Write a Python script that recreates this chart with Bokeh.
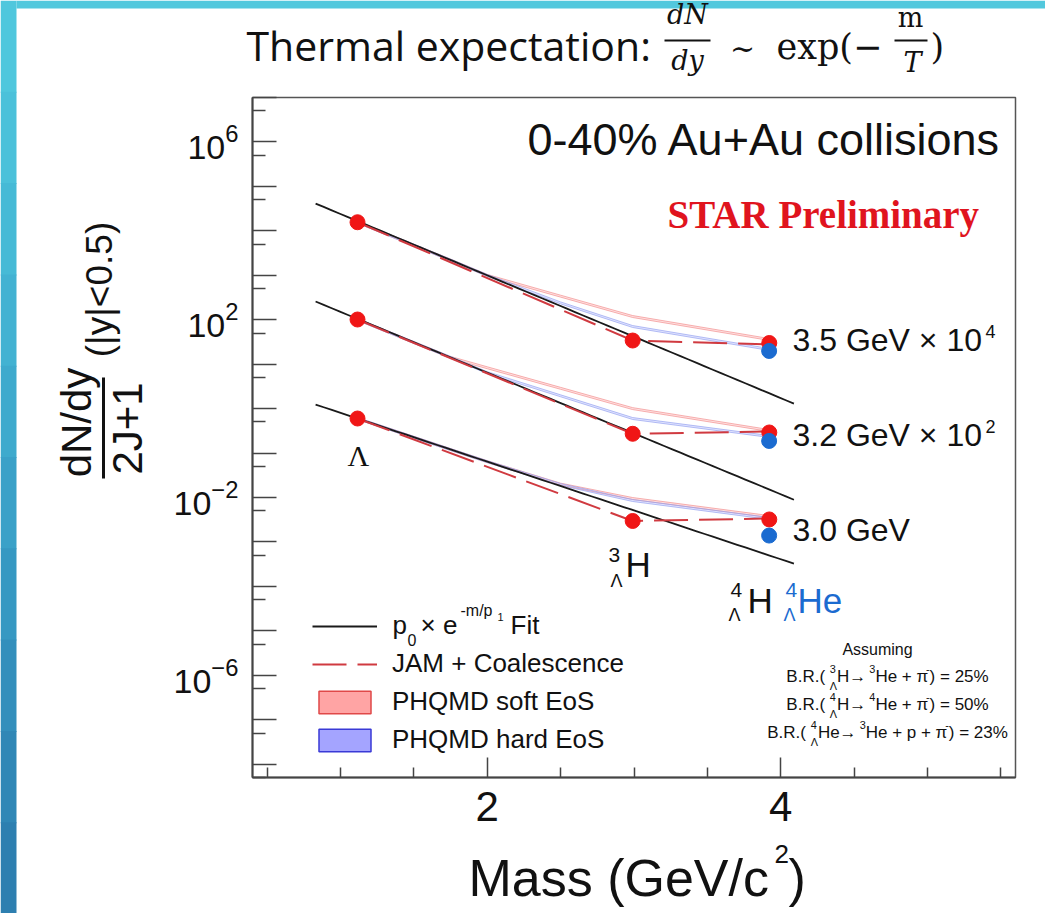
import numpy as np
from math import pi
from bokeh.plotting import figure
from bokeh.layouts import column
from bokeh.models import (Range1d, FixedTicker, Label, Legend, LegendItem,
                          BoxAnnotation, LogTickFormatter)
from bokeh.embed import file_html
from bokeh.resources import INLINE

# ---------------- data ----------------
# masses (GeV/c^2): Lambda, 3-Lambda-H, 4-Lambda-H, 4-Lambda-He
mass = [1.1157, 2.991, 3.922, 3.921]
species = ["Λ", "3ΛH", "4ΛH", "4ΛHe"]
energy_labels = ["3.5 GeV × 10", "3.2 GeV × 10", "3.0 GeV"]
energy_scale_exp = ["4", "2", ""]

# dN/dy/(2J+1), |y|<0.5, 0-40% Au+Au (scaled as labelled)
yield_35 = [1.56e4, 34.0, 29.9, 19.8]
yield_32 = [101.0, 0.271, 0.290, 0.187]
yield_30 = [0.598, 2.96e-3, 3.20e-3, 1.39e-3]

# exponential fits p0 * exp(-m/p1)
fit_p0 = [5.75e5, 3.50e3, 10.05]
fit_p1 = [0.3145, 0.3175, 0.3955]
fit_m_min, fit_m_max = 0.83, 4.09

# JAM + coalescence (Lambda, 3LH, 4LH)
jam_mass = [1.1157, 2.991, 3.922]
jam_35 = [1.56e4, 34.0, 27.7]
jam_32 = [101.0, 0.271, 0.305]
jam_30 = [0.598, 2.96e-3, 3.37e-3]

# PHQMD soft / hard EoS
phqmd_mass = [1.1157, 1.75, 2.0, 2.5, 2.991, 3.922]
soft_35 = [1.56e4, 2.20e3, 995.0, 339.0, 118.0, 35.9]
hard_35 = [1.56e4, 2.20e3, 995.0, 239.0, 70.3, 21.4]
soft_32 = [101.0, 14.2, 8.30, 2.86, 1.00, 0.321]
hard_32 = [101.0, 14.2, 6.44, 1.94, 0.598, 0.236]
soft_30 = [0.598, 0.120, 0.0640, 0.0200, 9.48e-3, 3.73e-3]
hard_30 = [0.598, 0.120, 0.0640, 0.0196, 8.55e-3, 3.37e-3]
phqmd_rel_width = 0.05

x_major = [2, 4]
x_minor = [0.5, 1.0, 1.5, 2.5, 3.0, 3.5, 4.5, 5.0, 5.5]
y_decades = [10.0 ** k for k in range(-8, 8)]
y_fives = [5.0 * 10.0 ** k for k in range(-9, 7)]
y_labelled = [1e-6, 1e-2, 1e2, 1e6]

# ---------------- main plot ----------------
W, H = 1045, 913
FL, FR, FT, FB = 252, 1015, 97, 777

p = figure(width=W, height=H, x_range=Range1d(0.4, 5.6),
           y_range=Range1d(5e-9, 1e7), y_axis_type="log",
           output_backend="svg", toolbar_location=None, title=None,
           min_border_left=FL, min_border_right=W - FR,
           min_border_top=FT, min_border_bottom=H - FB)
p.frame_align = False
p.background_fill_color = "white"
p.border_fill_color = "white"
p.outline_line_color = "#555555"
p.outline_line_width = 1.5
p.xgrid.visible = False
p.ygrid.visible = False

AXC = "#444444"
xa = p.xaxis[0]
xa.ticker = FixedTicker(ticks=x_major, minor_ticks=x_minor)
xa.major_tick_in, xa.major_tick_out = 20, 0
xa.minor_tick_in, xa.minor_tick_out = 10, 0
xa.axis_line_width = 2
xa.axis_line_color = AXC
xa.major_tick_line_color = AXC
xa.minor_tick_line_color = AXC
xa.major_tick_line_width = 1.5
xa.minor_tick_line_width = 1.5
xa.major_label_text_font = "Liberation Sans"
xa.major_label_text_font_size = "42px"
xa.major_label_text_color = "#111111"
xa.major_label_standoff = 14

ya = p.yaxis[0]
ya.ticker = FixedTicker(ticks=y_decades, minor_ticks=y_fives)
ya.formatter = LogTickFormatter()
ya.major_label_overrides = {t: "" for t in y_decades if t not in y_labelled}
ya.major_tick_in, ya.major_tick_out = 24, 0
ya.minor_tick_in, ya.minor_tick_out = 13, 0
ya.axis_line_width = 2
ya.axis_line_color = AXC
ya.major_tick_line_color = AXC
ya.minor_tick_line_color = AXC
ya.major_tick_line_width = 1.5
ya.minor_tick_line_width = 1.5
ya.major_label_text_font = "Liberation Sans"
ya.major_label_text_font_size = "34px"
ya.major_label_text_color = "#111111"
ya.major_label_standoff = 14

RED = "#f01616"
BLUE = "#1b6bd0"

yields = [yield_35, yield_32, yield_30]
jams = [jam_35, jam_32, jam_30]
softs = [soft_35, soft_32, soft_30]
hards = [hard_35, hard_32, hard_30]

fit_renderers, jam_renderers = [], []
for i in range(3):
    # PHQMD bands
    for vals, fcol, lcol in ((softs[i], "#ff9a9a", "#f29090"),
                             (hards[i], "#9aa4ff", "#95a2f0")):
        v = np.array(vals)
        lo, hi = v * (1 - phqmd_rel_width), v * (1 + phqmd_rel_width)
        p.varea(x=phqmd_mass, y1=lo, y2=hi, fill_color=fcol, fill_alpha=0.3)
        p.line(phqmd_mass, lo, line_color=lcol, line_width=1, line_alpha=0.7)
        p.line(phqmd_mass, hi, line_color=lcol, line_width=1, line_alpha=0.7)
    # exponential fit
    m = np.linspace(fit_m_min, fit_m_max, 60)
    fr = p.line(m, fit_p0[i] * np.exp(-m / fit_p1[i]), line_color="#1a1a1a",
                line_width=1.8)
    fit_renderers.append(fr)
    # JAM
    jr = p.line(jam_mass, jams[i], line_color="#d03a40", line_width=2,
                line_dash="34 11")
    jam_renderers.append(jr)
    # data points
    p.scatter(mass[:3], yields[i][:3], size=15, color=RED)
    p.scatter(mass[3:], yields[i][3:], size=15, color=BLUE)

# legend swatches for the PHQMD bands (nothing drawn in the frame)
soft_box = p.quad(left=[np.nan], right=[np.nan], top=[np.nan], bottom=[np.nan],
                  fill_color="#ffa4a4", line_color="#e04848", line_width=1.5)
hard_box = p.quad(left=[np.nan], right=[np.nan], top=[np.nan], bottom=[np.nan],
                  fill_color="#a4a4ff", line_color="#3a3ad6", line_width=1.5)

legend = Legend(items=[
    LegendItem(label=" ", renderers=[fit_renderers[0]]),
    LegendItem(label="JAM + Coalescence", renderers=[jam_renderers[0]]),
    LegendItem(label="PHQMD soft EoS", renderers=[soft_box]),
    LegendItem(label="PHQMD hard EoS", renderers=[hard_box]),
], location=(60, 22), orientation="vertical")
legend.padding = 0
legend.margin = 0
legend.spacing = 7
legend.glyph_width = 65
legend.glyph_height = 28
legend.label_height = 31
legend.label_standoff = 15
legend.label_text_font = "Liberation Sans"
legend.label_text_font_size = "26px"
legend.label_text_color = "#111111"
legend.background_fill_alpha = 0
legend.border_line_alpha = 0
p.add_layout(legend)

# ---------------- text overlay (pixel coordinates, y downwards) ----------------
ov = figure(width=W, height=H, x_range=Range1d(0, W), y_range=Range1d(H, 0),
            output_backend="svg", toolbar_location=None, title=None,
            x_axis_location=None, y_axis_location=None, min_border=0)
ov.frame_align = False
ov.background_fill_alpha = 0
ov.border_fill_alpha = 0
ov.outline_line_color = None
ov.xgrid.visible = False
ov.ygrid.visible = False
ov.margin = (-H, 0, 0, 0)


def put(text, px, py, size, font="Liberation Sans", color="#111111",
        align="left", style="normal", angle=0.0):
    ov.add_layout(Label(x=px, y=py, text=text, text_font=font,
                        text_font_size=f"{size:.1f}px", text_color=color,
                        text_align=align, text_baseline="middle",
                        text_font_style=style, angle=angle))


# approximate advance widths (em) of Liberation Sans, for inline sub/superscripts
ADV = {"B": .667, ".": .278, "R": .722, "(": .333, ")": .333, "H": .722,
       "e": .556, " ": .278, "+": .584, "p": .556, "=": .584, "%": .889,
       "→": .9, "π": .56, "-": .333, "Λ": .667}


def text_width(s, size):
    return sum(ADV.get(c, .556) for c in s) * size


def piece_width(pc, size):
    small = 0.64 * size
    if pc[0] == "n":
        return text_width(pc[1], size)
    if pc[0] == "sup":
        return text_width(pc[1], small)
    return max(text_width(pc[1], small), text_width(pc[2], small))


def compose(pieces, cx, cy, size):
    small = 0.64 * size
    x = cx - sum(piece_width(pc, size) for pc in pieces) / 2
    for pc in pieces:
        if pc[0] == "n":
            put(pc[1], x, cy, size)
        elif pc[0] == "sup":
            put(pc[1], x, cy - 0.42 * size, small)
        else:
            put(pc[1], x, cy - 0.42 * size, small)
            put(pc[2], x, cy + 0.56 * size, small)
        x += piece_width(pc, size)


# slide strip along the left and top edges
strip = ["#4fc7dd", "#4bc1da", "#46bad6", "#42b2d2", "#3eaacd", "#3aa1c8",
         "#3698c2", "#338fbc", "#3087b6", "#2d7fb0"]
n = len(strip)
for k, c in enumerate(strip):
    ov.add_layout(BoxAnnotation(left=0, right=16, top=k * H / n,
                                bottom=(k + 1) * H / n + 1,
                                fill_color=c, fill_alpha=1, line_alpha=0))
ov.add_layout(BoxAnnotation(left=16, right=W, top=0, bottom=8,
                            fill_color="#52c8dd", fill_alpha=1, line_alpha=0))

# heading formula
put("Thermal expectation:", 246, 44, 41, font="Open Sans")
put("dN", 687, 14, 27, font="DejaVu Serif", style="italic", align="center")
put("dy", 687, 60, 27, font="DejaVu Serif", style="italic", align="center")
put("∼", 742, 48, 30, font="DejaVu Serif", align="center")
put("exp(−", 776, 46, 35, font="DejaVu Serif")
put("m", 910, 17, 27, font="DejaVu Serif", align="center")
put("T", 912, 62, 27, font="DejaVu Serif", style="italic", align="center")
put(")", 930, 46, 35, font="DejaVu Serif")
ov.segment(x0=[664, 894], y0=[40, 40], x1=[710, 927], y1=[40, 40],
           line_color="#111111", line_width=2)

# axis titles
put("Mass (GeV/c", 468, 877, 52)
put("2", 774, 853, 26)
put(")", 788, 877, 52)
put("dN/dy", 76, 422, 42, align="center", angle=pi / 2)
put("2J+1", 127, 428, 42, align="center", angle=pi / 2)
put("(|y|<0.5)", 99, 289, 37, align="center", angle=pi / 2)
ov.segment(x0=[103], y0=[377], x1=[103], y1=[478], line_color="#111111",
           line_width=3)

# annotations inside the frame
put("0-40% Au+Au collisions", 527, 139, 45)
put("STAR Preliminary", 667, 214, 39, font="Liberation Serif", color="#e0141e",
    style="bold")
for lab, ex, cy in zip(energy_labels, energy_scale_exp, [339, 434, 529]):
    put(lab, 792, cy, 32)
    if ex:
        put(ex, 985, cy - 8, 18)

put("Λ", 358, 455, 30, font="Liberation Serif", align="center")
put("3", 608, 554, 21)
put("Λ", 610, 580, 18)
put("H", 625, 564, 35)
put("4", 730, 589, 21)
put("Λ", 728, 614, 18)
put("H", 747, 600, 35)
put("4", 785, 589, 21, color=BLUE)
put("Λ", 783, 614, 18, color=BLUE)
put("He", 797, 600, 35, color=BLUE)

# fit legend label
put("p", 392, 624, 26)
put("0", 407, 639, 16)
put("× e", 420, 624, 26)
put("-m/p", 460, 610, 16)
put("1", 497, 616, 11)
put("Fit", 510, 624, 26)

# branching-ratio note
put("Assuming", 877, 649, 16, align="center")
br_lines = [
    (676, [("n", "B.R.( "), ("supsub", "3", "Λ"), ("n", "H→ "), ("sup", "3"),
           ("n", "He + π"), ("sup", "-"), ("n", ") = 25%")]),
    (704, [("n", "B.R.( "), ("supsub", "4", "Λ"), ("n", "H→ "), ("sup", "4"),
           ("n", "He + π"), ("sup", "-"), ("n", ") = 50%")]),
    (732, [("n", "B.R.( "), ("supsub", "4", "Λ"), ("n", "He→ "), ("sup", "3"),
           ("n", "He + p + π"), ("sup", "-"), ("n", ") = 23%")]),
]
for cy, pieces in br_lines:
    compose(pieces, 887, cy, 17)

page = column(p, ov, spacing=0)
open("out.html", "w").write(file_html(page, INLINE))
